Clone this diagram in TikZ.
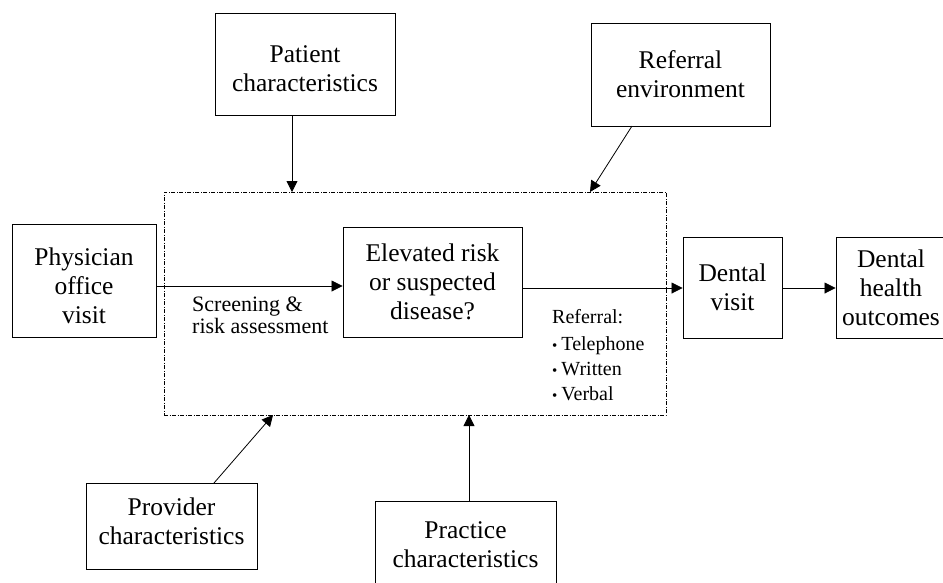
\documentclass[tikz,border=0pt]{standalone}
\usepackage{fontspec}
\setmainfont{Liberation Serif}
\usetikzlibrary{arrows.meta}
\begin{document}
\begin{tikzpicture}[x=1pt,y=-1pt,
  box/.style={draw, line width=0.9pt, align=center, inner sep=0pt,
    font=\fontsize{25.5}{29}\selectfont},
  boxtext/.style={align=center, inner sep=0pt, font=\fontsize{25.5}{29}\selectfont},
  frame/.style={draw, line width=0.8pt, dash pattern=on 4pt off 1.5pt on 1pt off 1.5pt, inner sep=0pt},
  arr/.style={-{Triangle[length=11pt,width=11pt]}, line width=0.8pt},
  side/.style={align=left, inner sep=0pt, font=\fontsize{22}{19.5}\selectfont},
  reflist/.style={inner sep=0pt, font=\fontsize{20}{25}\selectfont}]
\useasboundingbox (0,0) rectangle (943,582);
\clip (0,0) rectangle (943,582);

\node[frame, minimum width=502pt, minimum height=223pt] (frame) at (415,303.5) {};

\node[box, minimum width=180pt, minimum height=102pt,
  label={[boxtext, yshift=-5pt]center:{Patient\\characteristics}}] (patient) at (305,64) {};
\node[box, minimum width=179pt, minimum height=103pt] (refenv) at (680.5,74.5) {Referral\\environment};
\node[box, minimum width=144pt, minimum height=113pt,
  label={[boxtext, yshift=-5pt]center:{Physician\\office\\visit}}] (physician) at (84,280.5) {};
\node[box, minimum width=179pt, minimum height=110pt] (elevated) at (432.5,282) {Elevated risk\\or suspected\\disease?};
\node[box, minimum width=99pt, minimum height=101pt] (dvisit) at (732.5,287.5) {Dental\\visit};
\node[box, minimum width=110pt, minimum height=101pt] (dhealth) at (891,287.5) {Dental\\health\\outcomes};
\node[box, minimum width=171pt, minimum height=86pt,
  label={[boxtext, yshift=5pt]center:{Provider\\characteristics}}] (provider) at (171.5,526) {};
\node[box, minimum width=181pt, minimum height=88pt] (practice) at (465.5,545) {Practice\\characteristics};

\node[side, anchor=base west] (screen) at (192,333) {Screening \&\\risk assessment};
\node[reflist, anchor=base west] (referral) at (552,323) {\begin{tabular}[t]{@{}l@{\hspace{4pt}}l@{}}
\multicolumn{2}{@{}l@{}}{Referral:}\\[2pt]
{\fontsize{15}{15}\selectfont\textbullet} & Telephone\\
{\fontsize{15}{15}\selectfont\textbullet} & Written\\
{\fontsize{15}{15}\selectfont\textbullet} & Verbal
\end{tabular}};

\coordinate (pa) at (292,192);
\coordinate (ra) at (590,192);
\coordinate (rs) at (632,126);
\coordinate (pv) at (214,483);
\coordinate (va) at (273,415);
\coordinate (pr) at (469,501);
\coordinate (ca) at (469,415);
\coordinate (y1) at (0,286);
\coordinate (y2) at (0,288);

\draw[arr] (patient.south -| pa) -- (pa);
\draw[arr] (rs) -- (ra);
\draw[arr] (physician.east |- y1) -- (elevated.west |- y1);
\draw[arr] (elevated.east |- y2) -- (dvisit.west |- y2);
\draw[arr] (dvisit.east |- y2) -- (dhealth.west |- y2);
\draw[arr] (pv) -- (va);
\draw[arr] (pr) -- (ca);
\end{tikzpicture}
\end{document}
